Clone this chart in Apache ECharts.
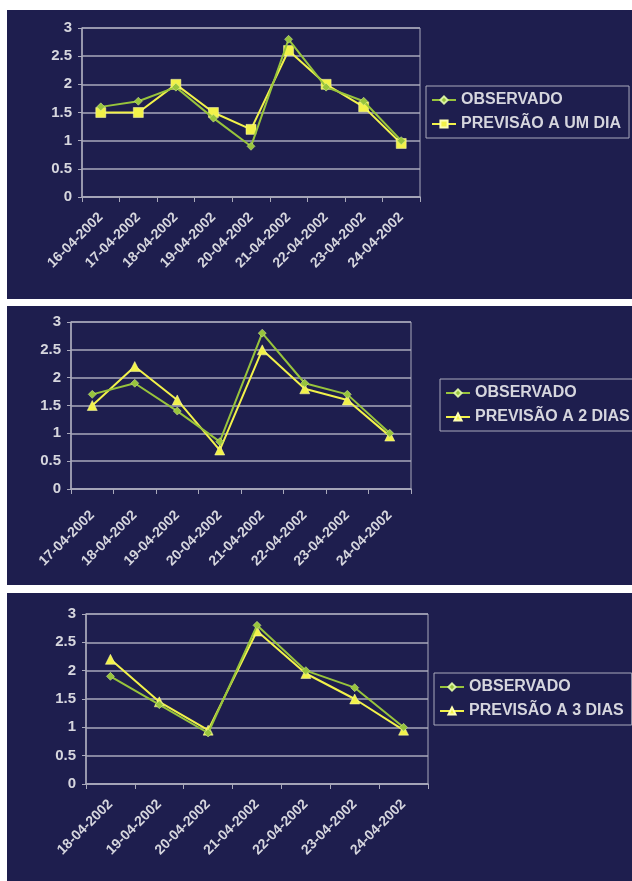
<!DOCTYPE html>
<html>
<head>
<meta charset="utf-8">
<script src="https://cdn.jsdelivr.net/npm/echarts@6/dist/echarts.min.js"></script>
<style>
  html, body { margin: 0; padding: 0; background: #ffffff; width: 632px; height: 881px; overflow: hidden; }
  .panel { position: absolute; left: 7px; width: 625px; background: #1e1e4e; }
</style>
</head>
<body>
<div id="c1" class="panel" style="top:10px;height:289px;"></div>
<div id="c2" class="panel" style="top:306px;height:279px;"></div>
<div id="c3" class="panel" style="top:593px;height:288px;"></div>
<script>
// ---- data ----
const cats1 = ['16-04-2002', '17-04-2002', '18-04-2002', '19-04-2002', '20-04-2002', '21-04-2002', '22-04-2002', '23-04-2002', '24-04-2002'];
const obs1  = [1.6, 1.7, 1.95, 1.4, 0.9, 2.8, 1.95, 1.7, 1.0];
const prev1 = [1.5, 1.5, 2.0, 1.5, 1.2, 2.6, 2.0, 1.6, 0.95];

const cats2 = ['17-04-2002', '18-04-2002', '19-04-2002', '20-04-2002', '21-04-2002', '22-04-2002', '23-04-2002', '24-04-2002'];
const obs2  = [1.7, 1.9, 1.4, 0.85, 2.8, 1.9, 1.7, 1.0];
const prev2 = [1.5, 2.2, 1.6, 0.7, 2.5, 1.8, 1.6, 0.95];

const cats3 = ['18-04-2002', '19-04-2002', '20-04-2002', '21-04-2002', '22-04-2002', '23-04-2002', '24-04-2002'];
const obs3  = [1.9, 1.4, 0.9, 2.8, 2.0, 1.7, 1.0];
const prev3 = [2.2, 1.45, 0.95, 2.7, 1.95, 1.5, 0.95];

const nameObs = 'OBSERVADO';
const names = ['PREVISÃO A UM DIA', 'PREVISÃO A 2 DIAS', 'PREVISÃO A 3 DIAS'];

// ---- styles ----
const GRAY = '#a9a9bb';
const TEXT = '#d6d6de';
const GREEN = '#98c43c';
const YELLOW = '#f2f24a';
const FONT = 'Liberation Sans, Arial, sans-serif';

function build(el, cats, obs, prev, prevName, prevSymbol, prevSize, grid, legendPos, xMargin) {
  const chart = echarts.init(document.getElementById(el), null, { renderer: 'canvas' });
  chart.setOption({
    backgroundColor: '#1e1e4e',
    animation: false,
    grid: Object.assign({ show: true, borderColor: GRAY, borderWidth: 1, backgroundColor: 'transparent' }, grid),
    legend: {
      orient: 'vertical',
      left: legendPos.left,
      top: legendPos.top,
      padding: [6, 8, 6, 5],
      itemGap: 8,
      itemWidth: 24,
      itemHeight: 9,
      borderColor: GRAY,
      borderWidth: 1,
      textStyle: { color: TEXT, fontSize: 16, fontWeight: 'bold', fontFamily: FONT },
      data: [nameObs, prevName]
    },
    xAxis: {
      type: 'category',
      data: cats,
      boundaryGap: true,
      axisLine: { show: true, lineStyle: { color: GRAY, width: 1.5 } },
      axisTick: { show: true, length: 5, lineStyle: { color: GRAY } },
      axisLabel: { color: TEXT, fontSize: 14, fontWeight: 'bold', fontFamily: FONT, rotate: 45, margin: xMargin, interval: 0 },
      splitLine: { show: false }
    },
    yAxis: {
      type: 'value',
      min: 0, max: 3, interval: 0.5,
      axisLine: { show: true, lineStyle: { color: GRAY, width: 1.5 } },
      axisTick: { show: true, length: 4, lineStyle: { color: GRAY } },
      axisLabel: { color: TEXT, fontSize: 15, fontWeight: 'bold', fontFamily: FONT, margin: 10 },
      splitLine: { show: true, lineStyle: { color: GRAY, width: 1.5 } }
    },
    series: [
      {
        name: nameObs, type: 'line', data: obs,
        symbol: 'diamond', symbolSize: 8,
        lineStyle: { color: GREEN, width: 2 },
        itemStyle: { color: GREEN, borderColor: '#d8f0a0', borderWidth: 0.5 },
        z: 3
      },
      {
        name: prevName, type: 'line', data: prev,
        symbol: prevSymbol, symbolSize: prevSize,
        lineStyle: { color: YELLOW, width: 2 },
        itemStyle: { color: YELLOW, borderColor: '#ffffb0', borderWidth: 0.5 },
        z: 2
      }
    ]
  });
}

build('c1', cats1, obs1, prev1, names[0], 'rect', 10,
  { left: 75, top: 18, width: 338, height: 169 }, { left: 419, top: 76 }, 18);
build('c2', cats2, obs2, prev2, names[1], 'triangle', 10,
  { left: 64, top: 16, width: 340, height: 167 }, { left: 433, top: 73 }, 24);
build('c3', cats3, obs3, prev3, names[2], 'triangle', 10,
  { left: 79, top: 21, width: 342, height: 170 }, { left: 427, top: 80 }, 18);
</script>
</body>
</html>
